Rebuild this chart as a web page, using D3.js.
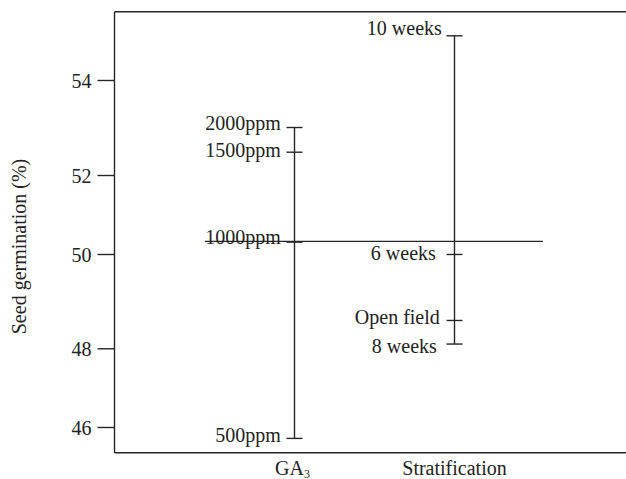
<!DOCTYPE html>
<html>
<head>
<meta charset="utf-8">
<script src="https://cdn.jsdelivr.net/npm/d3@7"></script>
<style>
  html, body { margin: 0; padding: 0; background: #fff; }
  svg { display: block; }
  svg text { font-family: "Liberation Serif", "Times New Roman", Times, serif; fill: #222; }
</style>
</head>
<body>
<svg id="chart" width="626" height="479"></svg>
<script>
// ---------------- data ----------------
const categories = ["GA3", "Stratification"];
const yTicks = [46, 48, 50, 52, 54];

const ga3Labels = ["2000ppm", "1500ppm", "1000ppm", "500ppm"];
const ga3Values = [53.0, 52.48, 50.30, 45.71];

const stratLabels = ["10 weeks", "6 weeks", "Open field", "8 weeks"];
const stratValues = [54.93, 49.99, 48.59, 48.09];

const grandMean = 50.32;
const yTitle = "Seed germination (%)";

// ---------------- layout ----------------
const FONT = "'Liberation Serif', 'Times New Roman', Times, serif";
const plotLeft = 114.5, plotRight = 634.5, plotTop = 11.7, plotBottom = 452.7;
// pixel stops of the (hand-drawn, slightly uneven) y ticks
const yStops = [427, 348.3, 254, 175, 80];
const ink = "#262626";

// label nudges (baseline offset, right-edge offset) per label
const nudge = {
  "2000ppm": [2, 0], "1500ppm": [4.5, 0], "1000ppm": [2, 0], "500ppm": [3.5, 0],
  "10 weeks": [-0.5, 1], "6 weeks": [6, -5], "Open field": [3.5, -1], "8 weeks": [9, -4]
};

const svg = d3.select("#chart").attr("font-family", FONT);

const x = d3.scalePoint().domain(categories).range([plotLeft, plotRight]).padding(1.125);
const y = d3.scaleLinear().domain(yTicks).range(yStops);

// frame
const frame = svg.append("g").attr("stroke", ink).attr("stroke-width", 1.4).attr("fill", "none");
frame.append("line").attr("x1", plotLeft).attr("x2", plotRight).attr("y1", plotTop).attr("y2", plotTop);
frame.append("line").attr("x1", plotLeft).attr("x2", plotRight).attr("y1", plotBottom).attr("y2", plotBottom);
frame.append("line").attr("x1", plotLeft).attr("x2", plotLeft).attr("y1", plotTop).attr("y2", plotBottom);

// y axis
const yAxis = svg.append("g")
  .attr("transform", `translate(${plotLeft},0)`)
  .call(d3.axisLeft(y).tickValues(yTicks).tickSize(17).tickSizeOuter(0).tickPadding(6).tickFormat(d3.format("d")));
yAxis.attr("font-family", FONT).attr("font-size", 20);
yAxis.select(".domain").remove();
yAxis.selectAll(".tick line").attr("stroke", ink).attr("stroke-width", 1.4);
yAxis.selectAll(".tick text")
  .attr("dy", "0.38em")
  .attr("font-family", FONT)
  .style("font-size", "20px")
  .attr("fill", ink);

// y title
svg.append("text")
  .attr("transform", `translate(26,246.5) rotate(-90)`)
  .attr("text-anchor", "middle")
  .attr("font-family", FONT)
  .style("font-size", "20px")
  .text(yTitle);

// mean line
const step = x.step();
svg.append("line")
  .attr("x1", x(categories[0]) - step * 0.56)
  .attr("x2", x(categories[1]) + step * 0.553)
  .attr("y1", y(grandMean)).attr("y2", y(grandMean))
  .attr("stroke", ink).attr("stroke-width", 1.4);

// series
const series = [
  { cat: categories[0], labels: ga3Labels, values: ga3Values },
  { cat: categories[1], labels: stratLabels, values: stratValues }
];
const capHalf = 8;
series.forEach(s => {
  const cx = x(s.cat);
  const g = svg.append("g");
  g.append("line")
    .attr("x1", cx).attr("x2", cx)
    .attr("y1", y(d3.max(s.values))).attr("y2", y(d3.min(s.values)))
    .attr("stroke", ink).attr("stroke-width", 1.4);
  const pts = s.labels.map((l, i) => ({ label: l, value: s.values[i] }));
  g.selectAll("line.cap").data(pts).join("line")
    .attr("class", "cap")
    .attr("x1", cx - capHalf).attr("x2", cx + capHalf)
    .attr("y1", d => y(d.value)).attr("y2", d => y(d.value))
    .attr("stroke", ink).attr("stroke-width", 1.4);
  g.selectAll("text").data(pts).join("text")
    .attr("x", d => cx - capHalf - 5.7 + (nudge[d.label] || [0, 0])[1])
    .attr("y", d => y(d.value) + (nudge[d.label] || [0, 0])[0])
    .attr("text-anchor", "end")
    .attr("font-family", FONT)
    .style("font-size", "20px")
    .text(d => d.label);
});

// category labels
const catText = svg.append("g").selectAll("text").data(categories).join("text")
  .attr("x", d => x(d) - (d === "GA3" ? 2 : 0))
  .attr("y", 474.5)
  .attr("text-anchor", "middle")
  .attr("font-family", FONT)
  .style("font-size", "20px");
catText.each(function(d) {
  const t = d3.select(this);
  if (d === "GA3") {
    t.append("tspan").text("GA");
    t.append("tspan").attr("dy", 3).style("font-size", "12px").text("3");
  } else {
    t.text(d);
  }
});
</script>
</body>
</html>
